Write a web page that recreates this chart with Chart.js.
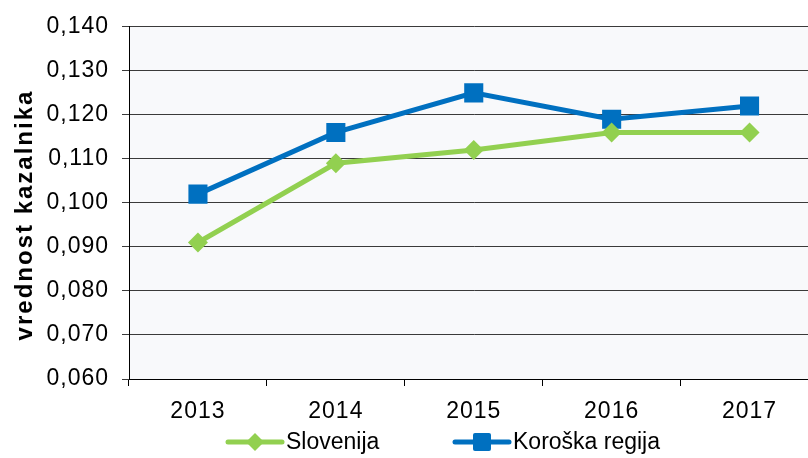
<!DOCTYPE html>
<html>
<head>
<meta charset="utf-8">
<script src="https://cdn.jsdelivr.net/npm/chart.js@4/dist/chart.umd.min.js"></script>
<style>
  html, body { margin: 0; padding: 0; background: #fff; overflow: hidden; }
  #wrap { position: relative; width: 808px; height: 458px; overflow: hidden; }
  canvas { display: block; }
</style>
</head>
<body>
<div id="wrap"><canvas id="chart" width="832" height="458"></canvas></div>
<script>
const years = ["2013", "2014", "2015", "2016", "2017"];
const slovenija = [0.091, 0.109, 0.112, 0.116, 0.116];
const koroska = [0.102, 0.116, 0.125, 0.119, 0.122];
const seriesNames = ["Slovenija", "Koroška regija"];
const axisTitle = "vrednost kazalnika";

const FONT = "'Liberation Sans', Arial, sans-serif";

// the original text is a little wide, so space it out
const spacing = {
  id: "spacing",
  beforeLayout(chart) { chart.ctx.letterSpacing = "1px"; },
  beforeDraw(chart) { chart.ctx.letterSpacing = "1px"; }
};

// grey plot background
const plotBg = {
  id: "plotBg",
  beforeDraw(chart) {
    const { ctx, chartArea: a } = chart;
    ctx.save();
    ctx.fillStyle = "#f8f9fb";
    ctx.fillRect(a.left, a.top, a.right - a.left, a.bottom - a.top);
    ctx.restore();
  }
};

// rotated y title + legend drawn as line with the marker on it
const extras = {
  id: "extras",
  afterDraw(chart) {
    const ctx = chart.ctx;
    ctx.save();
    ctx.translate(25, 215);
    ctx.rotate(-Math.PI / 2);
    ctx.letterSpacing = "2px";
    ctx.font = "bold 24px " + FONT;
    ctx.fillStyle = "#000";
    ctx.textAlign = "center";
    ctx.textBaseline = "middle";
    ctx.fillText(axisTitle, 0, 0);
    ctx.restore();

    const y = 442;
    const starts = [228, 455];
    ctx.save();
    ctx.letterSpacing = "0px";
    chart.data.datasets.forEach((ds, i) => {
      const x0 = starts[i];
      const cx = x0 + 27;
      ctx.strokeStyle = ds.borderColor;
      ctx.lineWidth = 5;
      ctx.lineCap = "round";
      ctx.beginPath();
      ctx.moveTo(x0, y);
      ctx.lineTo(x0 + 54, y);
      ctx.stroke();
      ctx.fillStyle = ds.backgroundColor;
      ctx.beginPath();
      if (ds.pointStyle === "rectRot") {
        const r = 9;
        ctx.moveTo(cx, y - r);
        ctx.lineTo(cx + r, y);
        ctx.lineTo(cx, y + r);
        ctx.lineTo(cx - r, y);
        ctx.closePath();
      } else {
        ctx.roundRect(cx - 9, y - 9, 18, 18, 2);
      }
      ctx.fill();
      ctx.fillStyle = "#000";
      ctx.font = "23px " + FONT;
      ctx.textBaseline = "middle";
      ctx.fillText(ds.label, x0 + 58, y + 1);
    });
    ctx.restore();
  }
};

new Chart(document.getElementById("chart"), {
  type: "line",
  data: {
    labels: years,
    datasets: [
      {
        label: seriesNames[0],
        data: slovenija,
        borderColor: "#92d050",
        backgroundColor: "#92d050",
        borderWidth: 5,
        pointStyle: "rectRot",
        pointRadius: 10,
        pointHoverRadius: 10,
        pointBorderWidth: 0,
        tension: 0
      },
      {
        label: seriesNames[1],
        data: koroska,
        borderColor: "#0070c0",
        backgroundColor: "#0070c0",
        borderWidth: 5,
        pointStyle: "rect",
        pointRadius: 13.5,
        pointHoverRadius: 13.5,
        pointBorderWidth: 0,
        tension: 0
      }
    ]
  },
  options: {
    responsive: false,
    animation: false,
    // canvas is wider than the window: plot runs past the right edge
    layout: { padding: { top: 10, right: 2, bottom: 30, left: 0 } },
    plugins: {
      legend: { display: false },
      tooltip: { enabled: false }
    },
    scales: {
      x: {
        offset: true,
        afterFit(scale) { scale.height = 49; },
        grid: {
          offset: true,
          drawOnChartArea: false,
          drawTicks: true,
          tickLength: 7,
          color: "#000",
          lineWidth: 1
        },
        border: { color: "#000", width: 1 },
        ticks: {
          color: "#000",
          font: { family: FONT, size: 23 },
          padding: 12,
          maxRotation: 0
        }
      },
      y: {
        min: 0.06,
        max: 0.14,
        afterFit(scale) { scale.width = 129; },
        grid: {
          color: "#3a3a3a",
          lineWidth: 1,
          tickLength: 7
        },
        border: { color: "#000", width: 1 },
        ticks: {
          stepSize: 0.01,
          color: "#000",
          font: { family: FONT, size: 23 },
          padding: 13,
          callback: (v) => v.toFixed(3).replace(".", ",")
        }
      }
    }
  },
  plugins: [spacing, plotBg, extras]
});
</script>
</body>
</html>
